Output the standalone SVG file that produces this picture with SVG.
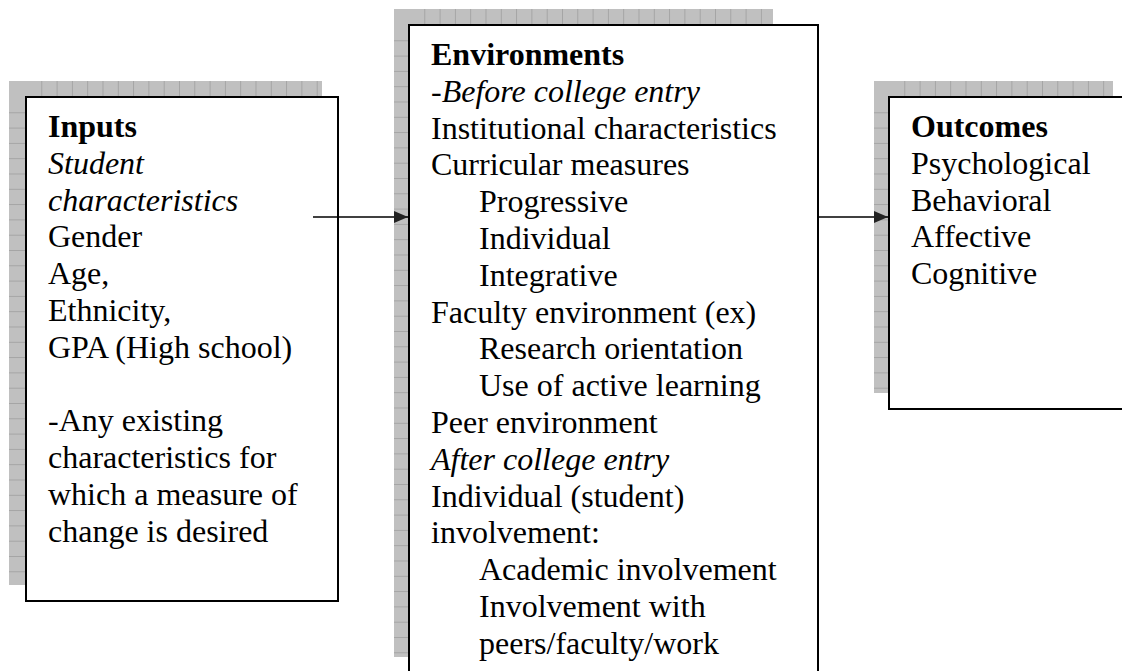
<svg xmlns="http://www.w3.org/2000/svg" width="1122" height="671" viewBox="0 0 1122 671">
<style>
text{font-family:"Liberation Serif","Times New Roman",serif;font-size:32px;fill:#000}
.b{font-weight:bold}
.i{font-style:italic}
.box{fill:#fff;stroke:#000;stroke-width:2}
.shadow{fill:#c0c0c0}
.conn{stroke:#000;stroke-width:1.5;fill:none}
</style>
<defs>
<pattern id="hA" patternUnits="userSpaceOnUse" x="0" y="97" width="40" height="15.3">
<path d="M0 0.5H40" stroke="#a4a4a4" stroke-width="1"/>
</pattern>
<pattern id="vA" patternUnits="userSpaceOnUse" x="26" y="0" width="15.3" height="40">
<path d="M0.5 0V40" stroke="#a4a4a4" stroke-width="1"/>
</pattern>
<pattern id="hB" patternUnits="userSpaceOnUse" x="0" y="25" width="40" height="15.3">
<path d="M0 0.5H40" stroke="#a4a4a4" stroke-width="1"/>
</pattern>
<pattern id="vB" patternUnits="userSpaceOnUse" x="409" y="0" width="15.3" height="40">
<path d="M0.5 0V40" stroke="#a4a4a4" stroke-width="1"/>
</pattern>
<pattern id="vC" patternUnits="userSpaceOnUse" x="889" y="0" width="15.3" height="40">
<path d="M0.5 0V40" stroke="#a4a4a4" stroke-width="1"/>
</pattern>
<marker id="arr" markerWidth="14" markerHeight="12" refX="14" refY="6" orient="auto" markerUnits="userSpaceOnUse">
<path d="M0 0L14 6L0 12Z" fill="#222"/>
</marker>
</defs>
<g id="inputs">
<rect class="shadow" x="9" y="81" width="313" height="504"/>
<rect x="9" y="98" width="17" height="487" fill="url(#hA)"/>
<rect x="27" y="81" width="295" height="16" fill="url(#vA)"/>
<rect class="box" x="26" y="97" width="312" height="504"/>
<text x="48" y="137" class="b">Inputs</text>
<text x="48" y="173.8" class="i">Student</text>
<text x="48" y="210.6" class="i">characteristics</text>
<text x="48" y="247.4">Gender</text>
<text x="48" y="284.2">Age,</text>
<text x="48" y="321">Ethnicity,</text>
<text x="48" y="357.8">GPA (High school)</text>
<text x="48" y="431.4">-Any existing</text>
<text x="48" y="468.2">characteristics for</text>
<text x="48" y="505">which a measure of</text>
<text x="48" y="541.8">change is desired</text>
</g>
<g id="environments">
<rect class="shadow" x="394" y="9" width="379" height="648"/>
<rect x="394" y="26" width="15" height="631" fill="url(#hB)"/>
<rect x="410" y="9" width="363" height="16" fill="url(#vB)"/>
<rect class="box" x="409" y="25" width="409" height="700"/>
<text x="431" y="65" class="b">Environments</text>
<text x="431" y="101.8" class="i">-Before college entry</text>
<text x="431" y="138.6">Institutional characteristics</text>
<text x="431" y="175.4">Curricular measures</text>
<text x="479" y="212.2">Progressive</text>
<text x="479" y="249">Individual</text>
<text x="479" y="285.8">Integrative</text>
<text x="431" y="322.6">Faculty environment (ex)</text>
<text x="479" y="359.4">Research orientation</text>
<text x="479" y="396.2">Use of active learning</text>
<text x="431" y="433">Peer environment</text>
<text x="431" y="469.8" class="i">After college entry</text>
<text x="431" y="506.6">Individual (student)</text>
<text x="431" y="543.4">involvement:</text>
<text x="479" y="580.2">Academic involvement</text>
<text x="479" y="617">Involvement with</text>
<text x="479" y="653.8">peers/faculty/work</text>
</g>
<g id="outcomes">
<rect class="shadow" x="874" y="81" width="239" height="312"/>
<rect x="874" y="98" width="15" height="295" fill="url(#hA)"/>
<rect x="890" y="81" width="223" height="16" fill="url(#vC)"/>
<rect class="box" x="889" y="97" width="312" height="312"/>
<text x="911" y="137" class="b">Outcomes</text>
<text x="911" y="173.8">Psychological</text>
<text x="911" y="210.6">Behavioral</text>
<text x="911" y="247.4">Affective</text>
<text x="911" y="284.2">Cognitive</text>
</g>
<g id="connectors">
<line class="conn" x1="313" y1="217" x2="408" y2="217" marker-end="url(#arr)"/>
<line class="conn" x1="818" y1="217" x2="888" y2="217" marker-end="url(#arr)"/>
</g>
</svg>
